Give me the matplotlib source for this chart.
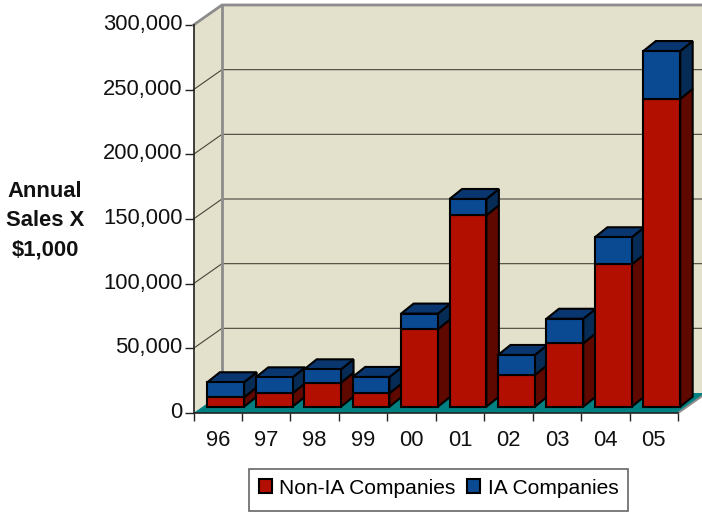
#!/usr/bin/env python3
# -*- coding: utf-8 -*-
import matplotlib
matplotlib.use("Agg")
import matplotlib.pyplot as plt
from matplotlib.patches import Polygon, Patch, Rectangle
from matplotlib.transforms import ScaledTranslation

matplotlib.rcParams["font.family"] = ["Liberation Sans", "DejaVu Sans"]

# data
years = ["96", "97", "98", "99", "00", "01", "02", "03", "04", "05"]
non_ia = [7300, 10400, 18600, 10400, 60000, 148000, 24500, 49000, 110000, 238000]
ia = [11600, 12300, 10300, 12600, 12000, 12600, 15500, 19000, 21000, 37000]
y_ticks = [0, 50000, 100000, 150000, 200000, 250000, 300000]

W, H = 702, 512
X0, X1, Y0, Y1 = 193.5, 678, 413, 25   # front plane in pixels

fig = plt.figure(figsize=(W / 100, H / 100), dpi=100)
ax = fig.add_axes([X0 / W, 1 - Y0 / H, (X1 - X0) / W, (Y0 - Y1) / H])
ax.set_xlim(0, len(years))
ax.set_ylim(0, 300000)
ax.patch.set_visible(False)

# depth of the chart box and of the bars, in data units
px_x = len(years) / (X1 - X0)
px_y = 300000 / (Y0 - Y1)
wall_dx, wall_dy = 28.5 * px_x, 20 * px_y
bar_dx, bar_dy = 12.5 * px_x, 10 * px_y
bar_left, bar_w = 0.285, 0.76
bar_base = 6.3 * px_y

n = len(years)
top = y_ticks[-1]


def poly(pts, **kw):
    kw.setdefault("clip_on", False)
    ax.add_patch(Polygon(pts, closed=True, **kw))


# walls and floor
poly([(wall_dx, wall_dy), (n + wall_dx, wall_dy), (n + wall_dx, top + wall_dy), (wall_dx, top + wall_dy)],
     fc="#E3E1CB", ec="none", zorder=1)
poly([(0, 0), (wall_dx, wall_dy), (wall_dx, top + wall_dy), (0, top)], fc="#E3E1CB", ec="none", zorder=1)
poly([(0, 0), (n, 0), (n + wall_dx, wall_dy), (wall_dx, wall_dy)], fc="#008080", ec="none", zorder=1)

for v in y_ticks[1:-1]:
    ax.plot([0, wall_dx, n + wall_dx], [v, v + wall_dy, v + wall_dy], color="#45453A", lw=0.8,
            clip_on=False, zorder=2)

grey = "#8C8C8C"
ax.plot([0, wall_dx, n + wall_dx], [top, top + wall_dy, top + wall_dy], color=grey, lw=2, clip_on=False, zorder=2)
ax.plot([wall_dx, wall_dx], [wall_dy, top + wall_dy], color=grey, lw=2, clip_on=False, zorder=2)
ax.plot([n, n + wall_dx, n + wall_dx + 1], [0, wall_dy, wall_dy], color=grey, lw=1.5, clip_on=False, zorder=2)


def box(x, low, high, front, side, cap=None):
    x2 = x + bar_w
    kw = dict(ec="black", lw=1.5, joinstyle="miter", zorder=3)
    poly([(x2, low), (x2 + bar_dx, low + bar_dy), (x2 + bar_dx, high + bar_dy), (x2, high)], fc=side, **kw)
    if cap:
        poly([(x, high), (x2, high), (x2 + bar_dx, high + bar_dy), (x + bar_dx, high + bar_dy)], fc=cap, **kw)
    poly([(x, low), (x2, low), (x2, high), (x, high)], fc=front, **kw)


for i in range(n):
    x = i + bar_left
    s = bar_base + non_ia[i]
    box(x, bar_base, s, "#B30F00", "#5F0800")
    box(x, s, s + ia[i], "#0A4A92", "#062B55", cap="#0A3670")

# axes
for name in ["top", "right"]:
    ax.spines[name].set_visible(False)
for name in ["left", "bottom"]:
    ax.spines[name].set_color("#222222")
    ax.spines[name].set_linewidth(1.2)
    ax.spines[name].set_zorder(4)

ax.set_yticks(y_ticks)
ax.set_yticklabels([f"{v:,}" for v in y_ticks])
ax.set_xticks(range(n + 1))
ax.set_xticklabels([])
ax.set_xticks([i + 0.5 for i in range(n)], minor=True)
ax.set_xticklabels(years, minor=True)
ax.tick_params(axis="y", labelsize=15.8, length=6.5, width=1, color="#222222", pad=1.5, labelcolor="#111111")
ax.tick_params(axis="x", which="major", length=6, width=1, color="#222222")
ax.tick_params(axis="x", which="minor", length=0, labelsize=15.8, pad=12.5, labelcolor="#111111")

# labels sit a little above their ticks in the original
for lab in ax.get_yticklabels():
    lab.set_transform(lab.get_transform() + ScaledTranslation(0, 3 / 100, fig.dpi_scale_trans))

fig.text(45 / W, 1 - 220.5 / H, "Annual\nSales X\n$1,000", ha="center", va="center",
         fontsize=15.8, fontweight="bold", linespacing=1.53, color="#111111")

# legend box is drawn by hand, its height does not follow from the text
fig.add_artist(Rectangle((249 / W, 1 - 511 / H), 379 / W, 42 / H, transform=fig.transFigure,
                         fc="white", ec="#666666", lw=1.2))
handles = [Patch(fc="#B30F00", ec="black", lw=1.5, label="Non-IA Companies"),
           Patch(fc="#0A4A92", ec="black", lw=1.5, label="IA Companies")]
leg = fig.legend(handles=handles, loc="center", bbox_to_anchor=(438.5 / W, 1 - 488 / H), ncol=2,
                 fontsize=15.1, frameon=False,
                 handlelength=0.62, handleheight=0.62, handletextpad=0.38, columnspacing=0.52,
                 borderpad=0.38, borderaxespad=0)

fig.savefig("out.png", dpi=100)
plt.close(fig)
